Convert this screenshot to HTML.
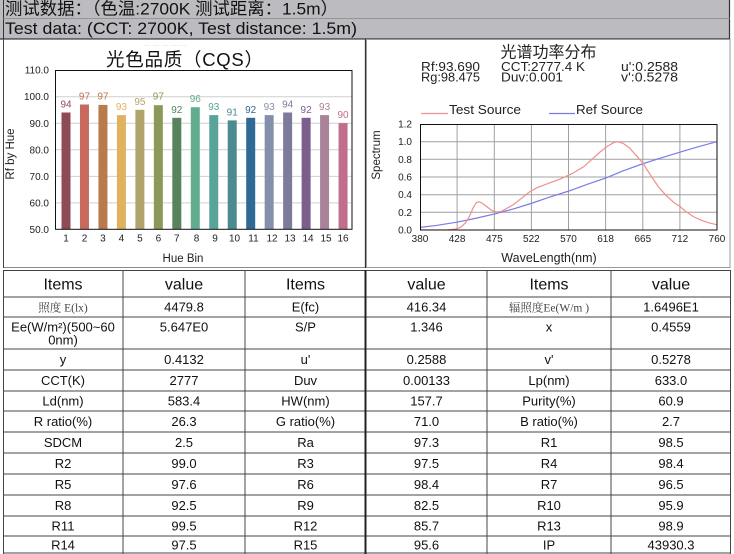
<!DOCTYPE html>
<html>
<head>
<meta charset="utf-8">
<style>
  html,body{margin:0;padding:0;background:#fff;}
  svg{display:block;}
  text{font-family:"Liberation Sans","Noto Sans CJK SC",sans-serif;}
</style>
</head>
<body>
<svg width="734" height="554" viewBox="0 0 734 554" xmlns="http://www.w3.org/2000/svg">
  <!-- Header -->
  <rect x="0" y="0" width="730" height="39" fill="#bcbcc0"/>
  <line x1="3.5" y1="0" x2="3.5" y2="39" stroke="#333" stroke-width="1"/>
  <line x1="729.5" y1="0" x2="729.5" y2="39" stroke="#333" stroke-width="1.2"/>
  <line x1="3" y1="18.5" x2="730" y2="18.5" stroke="#8a8a8e" stroke-width="0.8"/>
  <line x1="0" y1="39" x2="730" y2="39" stroke="#333" stroke-width="1.3"/>
  <text x="5" y="14.5" font-size="17" fill="#111" textLength="333" lengthAdjust="spacingAndGlyphs">测试数据：（色温:2700K 测试距离：1.5m）</text>
  <text x="5" y="34" font-size="17" fill="#111" textLength="352" lengthAdjust="spacingAndGlyphs">Test data: (CCT: 2700K, Test distance: 1.5m)</text>

  <!-- Panels -->
  <rect x="3.5" y="39.5" width="362" height="228" fill="none" stroke="#8a8a8a" stroke-width="1"/>
  <line x1="3.5" y1="39" x2="3.5" y2="268" stroke="#444" stroke-width="1"/>
  <line x1="365.5" y1="39" x2="365.5" y2="268" stroke="#333" stroke-width="1.3"/>
  <rect x="366.5" y="39.5" width="363.5" height="228" fill="none" stroke="#9a9a9a" stroke-width="1"/>

  <!-- Left chart: CQS -->
  <text x="165" y="47" font-size="7" fill="#e2e2e2" text-anchor="middle">— — — — —</text>
  <text x="106" y="66" font-size="18.5" fill="#111" textLength="157" lengthAdjust="spacing">光色品质（CQS）</text>
  <g stroke="#cfcfcf" stroke-width="1">
    <line x1="55" y1="96.8" x2="352" y2="96.8"/>
    <line x1="55" y1="123.3" x2="352" y2="123.3"/>
    <line x1="55" y1="149.8" x2="352" y2="149.8"/>
    <line x1="55" y1="176.4" x2="352" y2="176.4"/>
    <line x1="55" y1="202.9" x2="352" y2="202.9"/>
  </g>
  <g font-size="10" fill="#222" text-anchor="end">
    <text x="49" y="73.5">110.0</text>
    <text x="49" y="100">100.0</text>
    <text x="49" y="126.8">90.0</text>
    <text x="49" y="153.3">80.0</text>
    <text x="49" y="179.9">70.0</text>
    <text x="49" y="206.4">60.0</text>
    <text x="49" y="233">50.0</text>
  </g>
  <g>
    <rect x="61.5" y="112.5" width="9" height="116.8" fill="#8e4a55"/>
    <rect x="79.97" y="104.5" width="9" height="124.8" fill="#c76a5d"/>
    <rect x="98.44" y="104.9" width="9" height="124.4" fill="#b97a4c"/>
    <rect x="116.91" y="115.1" width="9" height="114.2" fill="#e0b25e"/>
    <rect x="135.38" y="109.8" width="9" height="119.5" fill="#b0a46c"/>
    <rect x="153.85" y="105.2" width="9" height="124.1" fill="#8a9957"/>
    <rect x="172.32" y="117.8" width="9" height="111.5" fill="#58835c"/>
    <rect x="190.79" y="107.2" width="9" height="122.1" fill="#63ad8f"/>
    <rect x="209.26" y="115.1" width="9" height="114.2" fill="#58a39a"/>
    <rect x="227.73" y="120.4" width="9" height="108.9" fill="#4b8a90"/>
    <rect x="246.2" y="117.8" width="9" height="111.5" fill="#2e6a93"/>
    <rect x="264.67" y="115.1" width="9" height="114.2" fill="#8490ab"/>
    <rect x="283.14" y="112.5" width="9" height="116.8" fill="#7d7a9c"/>
    <rect x="301.61" y="117.8" width="9" height="111.5" fill="#7d5d8c"/>
    <rect x="320.08" y="115.1" width="9" height="114.2" fill="#a88399"/>
    <rect x="338.55" y="123.1" width="9" height="106.2" fill="#c06e8c"/>
  </g>
  <g font-size="10" text-anchor="middle">
    <text x="66" y="107.5" fill="#8e4a55">94</text>
    <text x="84.47" y="99.5" fill="#c76a5d">97</text>
    <text x="102.94" y="99.5" fill="#b97a4c">97</text>
    <text x="121.41" y="110" fill="#e0b25e">93</text>
    <text x="139.88" y="104.8" fill="#b0a46c">95</text>
    <text x="158.35" y="99.5" fill="#8a9957">97</text>
    <text x="176.82" y="112.8" fill="#58835c">92</text>
    <text x="195.29" y="102.2" fill="#63ad8f">96</text>
    <text x="213.76" y="110" fill="#58a39a">93</text>
    <text x="232.23" y="115.4" fill="#4b8a90">91</text>
    <text x="250.7" y="112.8" fill="#2e6a93">92</text>
    <text x="269.17" y="110" fill="#8490ab">93</text>
    <text x="287.64" y="107.5" fill="#7d7a9c">94</text>
    <text x="306.11" y="112.8" fill="#7d5d8c">92</text>
    <text x="324.58" y="110" fill="#a88399">93</text>
    <text x="343.05" y="118.1" fill="#c06e8c">90</text>
  </g>
  <rect x="55.5" y="70.5" width="296.5" height="158.8" fill="none" stroke="#111" stroke-width="1"/>
  <g font-size="10" fill="#222" text-anchor="middle">
    <text x="66" y="241.5">1</text>
    <text x="84.47" y="241.5">2</text>
    <text x="102.94" y="241.5">3</text>
    <text x="121.41" y="241.5">4</text>
    <text x="139.88" y="241.5">5</text>
    <text x="158.35" y="241.5">6</text>
    <text x="176.82" y="241.5">7</text>
    <text x="196.5" y="241.5">8</text>
    <text x="215" y="241.5">9</text>
    <text x="234.5" y="241.5">10</text>
    <text x="253.5" y="241.5">11</text>
    <text x="272" y="241.5">12</text>
    <text x="290" y="241.5">13</text>
    <text x="308" y="241.5">14</text>
    <text x="326" y="241.5">15</text>
    <text x="343.05" y="241.5">16</text>
  </g>
  <text x="183" y="262" font-size="11.5" fill="#222" text-anchor="middle">Hue Bin</text>
  <text transform="translate(14 154) rotate(-90)" font-size="11.5" fill="#222" text-anchor="middle">Rf by Hue</text>

  <!-- Right chart: SPD -->
  <text x="548.5" y="57.5" font-size="16" fill="#222" text-anchor="middle">光谱功率分布</text>
  <g font-size="13" fill="#222">
    <text x="421" y="71" textLength="59" lengthAdjust="spacingAndGlyphs">Rf:93.690</text>
    <text x="421" y="81.5" textLength="59" lengthAdjust="spacingAndGlyphs">Rg:98.475</text>
    <text x="501" y="71" textLength="84" lengthAdjust="spacingAndGlyphs">CCT:2777.4 K</text>
    <text x="501" y="81.5" textLength="62" lengthAdjust="spacingAndGlyphs">Duv:0.001</text>
    <text x="621" y="71" textLength="57" lengthAdjust="spacingAndGlyphs">u':0.2588</text>
    <text x="621" y="81.5" textLength="57" lengthAdjust="spacingAndGlyphs">v':0.5278</text>
  </g>
  <line x1="421" y1="113.5" x2="448" y2="113.5" stroke="#ef8f8f" stroke-width="1.2"/>
  <text x="449" y="114" font-size="12.5" fill="#222" textLength="72" lengthAdjust="spacingAndGlyphs">Test Source</text>
  <line x1="549" y1="113.5" x2="575" y2="113.5" stroke="#7b7be8" stroke-width="1.2"/>
  <text x="576" y="114" font-size="12.5" fill="#222" textLength="67" lengthAdjust="spacingAndGlyphs">Ref Source</text>

  <g stroke="#a0a0a0" stroke-width="1">
    <line x1="457.1" y1="124" x2="457.1" y2="230"/>
    <line x1="494.3" y1="124" x2="494.3" y2="230"/>
    <line x1="531.4" y1="124" x2="531.4" y2="230"/>
    <line x1="568.5" y1="124" x2="568.5" y2="230"/>
    <line x1="605.6" y1="124" x2="605.6" y2="230"/>
    <line x1="642.8" y1="124" x2="642.8" y2="230"/>
    <line x1="679.9" y1="124" x2="679.9" y2="230"/>
    <line x1="420" y1="212.3" x2="717" y2="212.3"/>
    <line x1="420" y1="194.7" x2="717" y2="194.7"/>
    <line x1="420" y1="177" x2="717" y2="177"/>
    <line x1="420" y1="159.3" x2="717" y2="159.3"/>
    <line x1="420" y1="141.7" x2="717" y2="141.7"/>
  </g>
  <defs>
    <clipPath id="pc"><rect x="420" y="124" width="297" height="106"/></clipPath>
  </defs>
  <g clip-path="url(#pc)">
    <g transform="translate(420 230) scale(0.78158 -88.333)">
      <polyline fill="none" stroke="#7b7be8" stroke-width="1.2" vector-effect="non-scaling-stroke"
        points="0,0.03 20,0.05 48,0.09 70,0.13 95,0.18 120,0.24 142,0.30 165,0.37 190,0.44 215,0.52 238,0.59 260,0.67 285,0.75 310,0.82 332,0.88 355,0.94 380,1.0"/>
      <polyline fill="none" stroke="#ef8f8f" stroke-width="1.2" vector-effect="non-scaling-stroke"
        points="0,0 20,0 35,0.002 45,0.01 52,0.03 58,0.08 63,0.15 68,0.25 72,0.31 76,0.32 80,0.30 86,0.26 92,0.22 98,0.205 104,0.21 110,0.24 120,0.29 130,0.36 140,0.43 150,0.48 165,0.53 180,0.58 195,0.64 210,0.72 220,0.80 230,0.88 240,0.95 248,0.99 253,1.0 260,0.98 268,0.93 276,0.85 285,0.76 295,0.62 305,0.49 315,0.39 325,0.31 332,0.27 340,0.21 350,0.15 360,0.11 370,0.08 380,0.06"/>
    </g>
  </g>
  <rect x="420.5" y="124.5" width="296.5" height="105.5" fill="none" stroke="#111" stroke-width="1"/>
  <g font-size="10" fill="#222" text-anchor="end">
    <text x="412" y="127.5">1.2</text>
    <text x="412" y="145.2">1.0</text>
    <text x="412" y="162.8">0.8</text>
    <text x="412" y="180.5">0.6</text>
    <text x="412" y="198.2">0.4</text>
    <text x="412" y="215.8">0.2</text>
    <text x="412" y="233.5">0.0</text>
  </g>
  <g font-size="10" fill="#222" text-anchor="middle">
    <text x="420" y="242">380</text>
    <text x="457.1" y="242">428</text>
    <text x="494.3" y="242">475</text>
    <text x="531.4" y="242">522</text>
    <text x="568.5" y="242">570</text>
    <text x="605.6" y="242">618</text>
    <text x="642.8" y="242">665</text>
    <text x="679.9" y="242">712</text>
    <text x="717" y="242">760</text>
  </g>
  <text x="549" y="262" font-size="12.5" fill="#222" text-anchor="middle">WaveLength(nm)</text>
  <text transform="translate(380 155) rotate(-90)" font-size="11.5" fill="#222" text-anchor="middle">Spectrum</text>

  <!-- Table -->
  <g stroke="#444" stroke-width="1">
    <line x1="3" y1="270.5" x2="731" y2="270.5"/>
    <line x1="3" y1="297" x2="731" y2="297"/>
    <line x1="3" y1="317" x2="731" y2="317"/>
    <line x1="3" y1="349" x2="731" y2="349"/>
    <line x1="3" y1="370" x2="731" y2="370"/>
    <line x1="3" y1="391" x2="731" y2="391"/>
    <line x1="3" y1="411" x2="731" y2="411"/>
    <line x1="3" y1="432" x2="731" y2="432"/>
    <line x1="3" y1="453" x2="731" y2="453"/>
    <line x1="3" y1="474" x2="731" y2="474"/>
    <line x1="3" y1="495" x2="731" y2="495"/>
    <line x1="3" y1="516" x2="731" y2="516"/>
    <line x1="3" y1="536" x2="731" y2="536"/>
    <line x1="3" y1="553" x2="731" y2="553"/>
    <line x1="3.5" y1="270" x2="3.5" y2="554"/>
    <line x1="123" y1="270" x2="123" y2="554"/>
    <line x1="245" y1="270" x2="245" y2="554"/>
    <line x1="487" y1="270" x2="487" y2="554"/>
    <line x1="611" y1="270" x2="611" y2="554"/>
    <line x1="730.5" y1="270" x2="730.5" y2="554"/>
  </g>
  <line x1="365.5" y1="270" x2="365.5" y2="554" stroke="#222" stroke-width="2"/>

  <g font-size="16" fill="#111" text-anchor="middle">
    <text x="63" y="289.5">Items</text>
    <text x="184" y="289.5">value</text>
    <text x="305.5" y="289.5">Items</text>
    <text x="426.5" y="289.5">value</text>
    <text x="549" y="289.5">Items</text>
    <text x="671" y="289.5">value</text>
  </g>
  <g font-size="13" fill="#111" text-anchor="middle">
    <text x="63" y="311.5" font-size="11.5" fill="#444" style='font-family:"Liberation Serif","Noto Serif CJK SC",serif'>照度 E(lx)</text>
    <text x="184" y="311.5">4479.8</text>
    <text x="305.5" y="311.5">E(fc)</text>
    <text x="426.5" y="311.5">416.34</text>
    <text x="549" y="311.5" font-size="11.5" fill="#444" style='font-family:"Liberation Serif","Noto Serif CJK SC",serif'>辐照度Ee(W/m   )</text>
    <text x="671" y="311.5">1.6496E1</text>

    <text x="63" y="331.5">Ee(W/m²)(500~60</text>
    <text x="63" y="344.5">0nm)</text>
    <text x="184" y="331.5">5.647E0</text>
    <text x="305.5" y="331.5">S/P</text>
    <text x="426.5" y="331.5">1.346</text>
    <text x="549" y="331.5">x</text>
    <text x="671" y="331.5">0.4559</text>

    <text x="63" y="364">y</text>
    <text x="184" y="364">0.4132</text>
    <text x="305.5" y="364">u'</text>
    <text x="426.5" y="364">0.2588</text>
    <text x="549" y="364">v'</text>
    <text x="671" y="364">0.5278</text>

    <text x="63" y="385">CCT(K)</text>
    <text x="184" y="385">2777</text>
    <text x="305.5" y="385">Duv</text>
    <text x="426.5" y="385">0.00133</text>
    <text x="549" y="385">Lp(nm)</text>
    <text x="671" y="385">633.0</text>

    <text x="63" y="405.5">Ld(nm)</text>
    <text x="184" y="405.5">583.4</text>
    <text x="305.5" y="405.5">HW(nm)</text>
    <text x="426.5" y="405.5">157.7</text>
    <text x="549" y="405.5">Purity(%)</text>
    <text x="671" y="405.5">60.9</text>

    <text x="63" y="426">R ratio(%)</text>
    <text x="184" y="426">26.3</text>
    <text x="305.5" y="426">G ratio(%)</text>
    <text x="426.5" y="426">71.0</text>
    <text x="549" y="426">B ratio(%)</text>
    <text x="671" y="426">2.7</text>

    <text x="63" y="447">SDCM</text>
    <text x="184" y="447">2.5</text>
    <text x="305.5" y="447">Ra</text>
    <text x="426.5" y="447">97.3</text>
    <text x="549" y="447">R1</text>
    <text x="671" y="447">98.5</text>

    <text x="63" y="468">R2</text>
    <text x="184" y="468">99.0</text>
    <text x="305.5" y="468">R3</text>
    <text x="426.5" y="468">97.5</text>
    <text x="549" y="468">R4</text>
    <text x="671" y="468">98.4</text>

    <text x="63" y="489">R5</text>
    <text x="184" y="489">97.6</text>
    <text x="305.5" y="489">R6</text>
    <text x="426.5" y="489">98.4</text>
    <text x="549" y="489">R7</text>
    <text x="671" y="489">96.5</text>

    <text x="63" y="510">R8</text>
    <text x="184" y="510">92.5</text>
    <text x="305.5" y="510">R9</text>
    <text x="426.5" y="510">82.5</text>
    <text x="549" y="510">R10</text>
    <text x="671" y="510">95.9</text>

    <text x="63" y="530.5">R11</text>
    <text x="184" y="530.5">99.5</text>
    <text x="305.5" y="530.5">R12</text>
    <text x="426.5" y="530.5">85.7</text>
    <text x="549" y="530.5">R13</text>
    <text x="671" y="530.5">98.9</text>

    <text x="63" y="549.5">R14</text>
    <text x="184" y="549.5">97.5</text>
    <text x="305.5" y="549.5">R15</text>
    <text x="426.5" y="549.5">95.6</text>
    <text x="549" y="549.5">IP</text>
    <text x="671" y="549.5">43930.3</text>
  </g>
</svg>
</body>
</html>
